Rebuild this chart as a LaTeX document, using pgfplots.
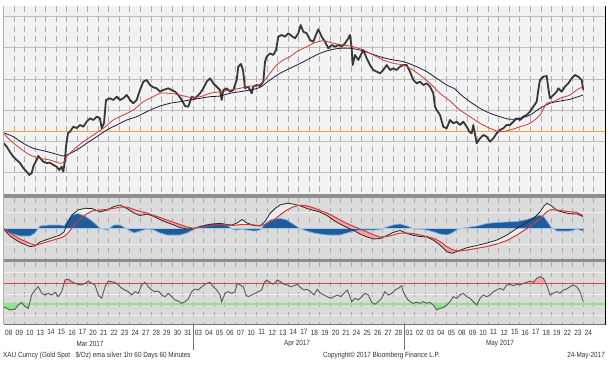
\documentclass[border=0pt]{standalone}
\usepackage{fontspec}
\setmainfont{Liberation Sans}[FakeStretch=0.85]
\usepackage{pgfplots}
\pgfplotsset{compat=1.18}
\usepackage{pgfplotstable}
\usepgfplotslibrary{fillbetween}

\definecolor{pricec}{HTML}{383838}
\definecolor{emared}{HTML}{D03A3A}
\definecolor{emablk}{HTML}{1E1E3C}
\definecolor{orangel}{HTML}{F2A23A}
\definecolor{gridv}{HTML}{ABABAB}
\definecolor{gridh}{HTML}{BEBEBE}
\definecolor{panelbg}{HTML}{DBDBDB}
\definecolor{sepc}{HTML}{8E8E8E}
\definecolor{pinkf}{HTML}{F3A5A5}
\definecolor{grayf}{HTML}{ECECEC}
\definecolor{histblue}{HTML}{1F5C9E}
\definecolor{histedge}{HTML}{7EAFDF}
\definecolor{zeroc}{HTML}{A9C7E6}
\definecolor{rsired}{HTML}{D84848}
\definecolor{rsigreen}{HTML}{8FE38F}
\definecolor{txt}{HTML}{333333}

% price (x in px, y in px from top)
\pgfplotstableread{
x y
3.5 143
6.7 146.7
10 152
13.3 156.7
16.7 160
20 163
23.3 168
26.7 171.7
29.3 175
31.7 173
33.3 166.7
35 163
36.7 160
38.3 156
40 158
43.3 161.7
46.7 163
50 162.7
53.3 165
56.7 166.7
59.3 170
61.7 166.7
63.3 171.7
65 160
66 146.7
68 133
70 131.7
73.3 126.7
76.7 128
80 125
83.3 126.7
86.7 121.7
90 118.3
93.3 120
96.7 116.7
100 118.3
101.7 128.3
104 123
106 100
110 98.3
113.3 100
116.7 96.7
120 100
123.3 98.3
126.7 95
130 100
133.3 103.3
136.7 100
138.3 95
140 90
143.3 81.7
146.7 80
150 85
153.3 87.3
156.7 88.3
160 91.7
163.3 90
168.3 88.3
171.7 90
175 91.7
178.3 95
181.7 100
185 106
188.3 106.7
191.7 96.7
195 98.3
200 93.3
203.3 88.3
206.7 81.7
210 78.3
213.3 83.3
216.7 86.7
220 90
221.7 100
223.3 90
226.7 88.3
230 91.7
233.3 90
236.7 80
238.3 66.7
241 64
243 70
245 88
248.3 86.7
251.7 93.3
253.3 86.7
256.7 85
260 86
263.3 81.7
265 61.7
266.7 56.7
270 53.3
273.3 55
276 50
278.3 36.7
281.7 35
285 36.7
288.3 33.3
291.7 36
295 38.3
298.3 33.3
300.7 25
303.3 31.7
306.7 33.3
310 40
313.3 41.7
316.7 33
318.3 29.3
321.7 36.7
325 41.7
328.3 48.3
331.7 45
335 46.7
338.3 45
341.7 46.7
345 43.3
348.3 38.3
350 35
351.7 48.3
352.7 65
355 55
358.3 60
361.7 53.3
363.3 50
366.7 58.3
370 65
373.3 70
376.7 71.7
380 73.3
383.3 70
386.7 65
390 70
393.3 68.3
396.7 70
400 66.7
403.3 65
406.7 65
410 71.7
413.3 80
416.7 83.3
420 81.7
423.3 85
426.7 83.3
430 86.7
433.3 93.3
435 106.7
436.7 110
440 115
443.3 126.7
446.7 128.3
450 120
453.3 123.3
456.7 121.7
460 125
463.3 121.7
466.7 126.7
469.3 131.7
471.7 133.3
473.3 125
476.7 143.3
480 138.3
483.3 135
486.7 136.7
490 141.7
493.3 138.3
496.7 133.3
500 130
503.3 128.3
506.7 125
510 125
513.3 121.7
516.7 118.3
520 120
523.3 116.7
526.7 115
530 111.7
533.3 106.7
536.7 101.7
538.3 90
540 80
543.3 76.7
546.7 76
548.3 88.3
550 98.3
553.3 95
556.7 91.7
558.3 88.3
561.7 91.7
565 86.7
568.3 83.3
571.7 78.3
575 75
578.3 76.7
581.7 80
583.3 90
}\pricetab

\pgfplotstableread{
x y
3.5 133.3
10 140
20 148.3
30 155
40 158.3
50 160
60 163.3
63.3 162.7
66.7 156.7
73.3 150
83.3 141.7
93.3 135
103.3 128.3
113.3 120
123.3 115
133.3 110
143.3 101.7
153.3 96.7
160 93.3
170 93.3
180 95
190 97.3
200 96.7
210 93.3
220 91.7
230 90
240 88.3
250 86
256.7 86
263.3 81.7
270 73.3
276.7 65
283.3 60
290 56.7
296.7 51.7
306.7 46.7
313.3 43.3
323.3 40.7
333.3 43.3
343.3 45
353.3 46.7
363.3 50
373.3 55
383.3 60
393.3 63.3
403.3 65
410 68.3
420 75
430 83.3
440 93.3
450 101
460 110
470 116.7
480 123.3
490 128.3
500 131.7
510 130
520 126.7
530 123.3
540 115
546.7 103.3
553.3 101.7
560 98.3
570 95
576.7 90
581.7 87.3
583.3 88.3
}\emaredtab

\pgfplotstableread{
x y
3.5 132.7
13.3 136.7
23.3 143.3
33.3 148.3
43.3 150.7
53.3 153.3
63.3 156
66.7 155
76.7 150
86.7 143.3
96.7 136.7
106.7 130
116.7 125
126.7 120
136.7 116.7
146.7 111.7
155 108
160 106
170 103.3
180 101.7
190 100
200 98.3
210 96.7
220 96
230 93.3
240 91.7
250 90
260 87.3
270 80
280 73.3
290 68.3
300 63.5
310 58.3
320 53.3
330 50
340 48.3
350 48.3
360 50
370 53.3
380 56.7
390 59.3
400 61
406.7 62.7
416.7 66.7
426.7 71.7
436.7 78.3
446.7 85
455 89
460 94
470 101.7
480 108.3
490 113.3
500 116.7
510 119.3
520 118.3
530 115
540 108.3
550 103.3
560 101
570 99.3
580 96
583.3 95
}\emablktab

% MACD panel: m = MACD (black), s = signal (red), h = histogram, lo = lower of the two on screen
\pgfplotstableread{
x m s h lo
3.5 229 228.5 229 229
10 236 233 233 236
20 242.5 239 236 242.5
30 246.5 243.5 236 246.5
35 246 245 233 246
40 242 244 226 244
50 238.5 241 225 241
60 235 238 225 238
64 232 236.5 226 236.5
68 222 233 220 233
72 215 228 215 228
78 210 221 213.5 221
85 208.3 215 216 215
92 208.5 211 221 211
100 212 210 228 212
107 210 209.5 230 210
114 206.5 208.3 225 208.3
120 205 207 225 207
127 208.5 207 229 208.5
134 213 209.5 233 213
140 215.5 211.5 231 215.5
147 214 213 229 214
154 216.5 215.5 230 216.5
160 219.5 217.5 233 219.5
167 222.5 220 235 222.5
174 225 222.5 235 225
180 227.5 224.5 235 227.5
187 229 227 233 229
193 228.5 228.3 230 228.5
200 226.7 227.3 226 227.3
210 224.3 225.7 224 225.7
220 223.3 224.3 223.5 224.3
227 224.5 225 225 225
232 225 225.5 229 225.5
237 223 225 230 225
242 219.5 224.5 229 224.5
247 223 224.5 230 224.5
254 225.5 225 231 225.5
260 226 225.5 230 226
265 221.5 224.5 224 224.5
270 213.5 222 220 222
275 208.5 219 219 219
280 205 215 218.3 215
287 203.3 210 220 210
293 204 207 224 207
300 205.7 205.2 228.5 205.7
307 208.5 205.8 231 208.5
314 210.5 208 233 210.5
320 212 210.5 234 212
327 215.5 213 235 215.5
334 220.5 216.5 235 220.5
340 224 220 235 224
347 227.5 223.5 233 227.5
354 230.5 226.5 231 230.5
360 234 229 230 234
367 237 232 230 237
374 239 235 230 239
380 238.5 237 229.5 238.5
387 235.5 236.5 227 236.5
393 232.5 235 225 235
400 230.5 233 224 233
407 233.5 233 226 233.5
414 235.5 233.8 229 235.5
420 236.5 235 229 236.5
427 237 236.5 230 237
434 240.5 238.5 232 240.5
440 245 241.5 234 245
447 251.7 246.7 235 251.7
452 253.3 249.5 233 253.3
458 251 251.2 229 251.2
467 247.7 250 227.5 250
477 245.5 248.3 226 248.3
487 243 246.5 223.5 246.5
497 240 244 222.5 244
507 235 240.5 222 240.5
517 228.3 235 221.5 235
527 222.3 228.5 219.5 228.5
534 218 223.5 217 223.5
540 212 218.5 215 218.5
544 206 214.5 217 214.5
547 203.3 211.7 221 211.7
551 205.5 209.5 227 209.5
557 210.5 210 231 210.5
564 212.5 211 231 212.5
570 213.8 211.8 231 213.8
577 214 212.5 229 214
583 216.5 215.5 231 216.5
}\macdtab

\pgfplotstableread{
x y
3.3 306.7
6.7 308.3
10 310
15 309.3
18.3 305
21.7 302.3
25 306.7
28.3 308.3
31.7 295
35 290
38.3 286.7
41.7 293.3
45 295
48.3 293.3
51.7 295
55 292.3
58.3 296.7
61.7 291.7
65 280
68.3 279
71.7 281.7
75 283.3
78.3 284.3
81.7 285
85 283.3
88.3 281
91.7 283.3
95 285
98.3 295
101.7 298.3
105 286.7
108.3 281
111.7 281.7
115 282.3
118.3 285
121.7 288.3
125 290
128.3 291.7
131.7 295
135 291.7
138.3 293.3
141.7 285
145 282.3
148.3 286.7
151.7 290
155 291.7
158.3 291
161.7 295
165 296.7
168.3 293.3
171.7 296.7
175 300
178.3 301
181.7 303.3
185 301.7
188.3 299
191.7 291.7
195 289
198.3 290
201.7 286.7
206.7 283.3
210 282.3
213.3 286.7
216.7 290
220 295
221.7 301.7
225 293.3
228.3 291.7
231.7 293.3
235 291.7
237.3 283.3
240 285
243.3 286.7
246 295
248.3 296.7
251.7 295
255 293.3
258.3 291.7
261.7 290
264.3 282.3
266.7 280
270 282.3
273.3 284.3
277.3 280
280.7 281.7
284 284.3
287.3 285
290.7 286.7
294 285.7
297.3 284.3
300.7 287.7
304 290
307.3 289.3
310.7 291.7
314 295
317.3 289.3
320.7 293.3
324 295
327.3 296.7
330.7 298.3
334 296.7
337.3 295
340.7 296.7
344 293.3
347.3 290
349.3 295
351.7 301.7
355 298.3
358.3 300
361.7 296.7
365 293.3
368.3 295
371.7 302.3
375 304.3
378.3 301.7
381.7 298.3
385 291.7
388.3 295
391.7 293.3
395 290
398.3 288.3
401.7 285.7
403.3 291.7
406.7 298.3
410 301.7
413.3 303.3
416.7 302.3
420 303.3
423.3 301.7
426.7 303.3
430 302.3
433.3 305
436.7 310
440 308.3
443.3 307.7
446.7 305
450 301.7
453.3 296.7
456.7 298.3
460 295
463.3 293.3
466.7 296.7
470 298.3
473.3 301.7
476.7 305
480 298.3
483.3 295
486.7 296.7
490 295
493.3 291.7
496.7 290
500 288.3
503.3 290
506.7 285
510 284.3
513.3 285.7
516.7 284.3
520 285
523.3 283.3
526.7 282.3
530 281
533.3 282.3
536.7 278.3
540 276.7
543.3 278.3
546.7 285
550 295
553.3 293.3
556.7 291.7
560 293.3
563.3 290
566.7 289
570 286.7
573.3 285
576.7 286.7
580 291.7
583.3 301.7
}\rsitab

\pgfplotsset{
  panel/.style={
    x=1bp, y=1bp, y dir=reverse,
    xmin=3.5, xmax=605,
    anchor=north west,
    axis line style={draw=none},
    major tick length=0pt, minor tick length=0pt,
    xtick={3.5,14.04,...,594},
    ytick=\empty,
    xmajorgrids=true,
    major grid style={gridv, line width=1bp, dash pattern=on 5.5bp off 4.5bp},
    yticklabel=\empty, xticklabel=\empty,
  },
  hline/.style={gridh, line width=0.6bp},
  hline2/.style={white!55!panelbg, line width=0.8bp},
}

\begin{document}
\begin{tikzpicture}
\path (0,0) rectangle (612bp,-368bp);

% ---------------- price panel ----------------
\begin{axis}[panel, at={(3.5bp,-6bp)}, ymin=6, ymax=194,
  axis background/.style={top color=black!5, middle color=black!2, bottom color=black!5}]
\addplot[hline] coordinates {(3.5,16) (605,16)};
\addplot[hline] coordinates {(3.5,47.5) (605,47.5)};
\addplot[hline] coordinates {(3.5,79) (605,79)};
\addplot[hline] coordinates {(3.5,110) (605,110)};
\addplot[hline] coordinates {(3.5,141) (605,141)};
\addplot[hline] coordinates {(3.5,172) (605,172)};
\addplot[orangel, line width=1bp] coordinates {(3.5,131.7) (605,131.7)};
\addplot[pricec, line width=1.8bp, line join=round] table[x=x,y=y] {\pricetab};
\addplot[emablk, line width=0.8bp, smooth] table[x=x,y=y] {\emablktab};
\addplot[emared, line width=0.8bp, smooth] table[x=x,y=y] {\emaredtab};
\end{axis}

% ---------------- MACD panel ----------------
\begin{axis}[panel, at={(3.5bp,-197.5bp)}, ymin=197.5, ymax=258.5,
  axis background/.style={fill=panelbg}]
\addplot[hline2] coordinates {(3.5,212) (605,212)};
\addplot[hline2] coordinates {(3.5,244) (605,244)};
\addplot[name path=macd, draw=none] table[x=x,y=m] {\macdtab};
\addplot[name path=sig, draw=none] table[x=x,y=s] {\macdtab};
\addplot[name path=lo, draw=none] table[x=x,y=lo] {\macdtab};
\addplot[fill=pinkf, draw=none] fill between[of=sig and lo];
\addplot[fill=grayf, draw=none] fill between[of=macd and lo];
\addplot[name path=hist, histedge, line width=0.7bp] table[x=x,y=h] {\macdtab};
\addplot[name path=zero, zeroc, line width=0.5bp] coordinates {(3.5,228.3) (583,228.3)};
\addplot[fill=histblue, draw=none] fill between[of=hist and zero];
\addplot[black!85, line width=0.8bp] table[x=x,y=m] {\macdtab};
\addplot[emared, line width=1bp] table[x=x,y=s] {\macdtab};
\end{axis}

% ---------------- RSI panel ----------------
\begin{axis}[panel, at={(3.5bp,-261.5bp)}, ymin=261.5, ymax=324,
  axis background/.style={fill=panelbg},
  xticklabels={08,09,10,13,14,15,16,17,20,21,22,23,24,27,28,29,30,31,03,04,05,06,07,10,11,12,13,14,17,18,19,20,21,24,25,26,27,28,01,02,03,04,05,08,09,10,11,12,15,16,17,18,19,22,23,24,{}},
  xticklabel style={font=\fontsize{7.7}{8}\selectfont, text=txt, inner sep=0pt, anchor=north, yshift=-5.5bp, xshift=5.27bp}]
\addplot[hline2] coordinates {(3.5,272) (605,272)};
\addplot[hline2] coordinates {(3.5,294) (605,294)};
\addplot[hline2] coordinates {(3.5,315) (605,315)};
% areas beyond the two bands
\addplot[fill=pinkf, draw=none] coordinates {(64.1,283.3) (65,280) (68.3,279) (71.7,281.7) (75,283.3)};
\addplot[fill=pinkf, draw=none] coordinates {(86.6,283.3) (88.3,281) (91.7,283.3)};
\addplot[fill=pinkf, draw=none] coordinates {(106.7,283.3) (108.3,281) (111.7,281.7) (115,282.3) (116.5,283.3)};
\addplot[fill=pinkf, draw=none] coordinates {(143.9,283.3) (145,282.3) (146,283.3)};
\addplot[fill=pinkf, draw=none] coordinates {(207.5,283.3) (210,282.3) (210.8,283.3)};
\addplot[fill=pinkf, draw=none] coordinates {(263.5,283.3) (264.3,282.3) (266.7,280) (270,282.3) (271,283.3)};
\addplot[fill=pinkf, draw=none] coordinates {(275.5,283.3) (277.3,280) (280.7,281.7) (282.5,283.3)};
\addplot[fill=pinkf, draw=none] coordinates {(523.3,283.3) (526.7,282.3) (530,281) (533.3,282.3) (536.7,278.3) (540,276.7) (543.3,278.3) (544.5,283.3)};
\addplot[fill=rsigreen, draw=none] coordinates {(3.3,304.3) (3.3,306.7) (6.7,308.3) (10,310) (15,309.3) (18.3,305) (18.8,304.3)};
\addplot[fill=rsigreen, draw=none] coordinates {(23.3,304.3) (25,306.7) (28.3,308.3) (29.4,304.3)};
\addplot[fill=rsigreen, draw=none] coordinates {(432.1,304.3) (433.3,305) (436.7,310) (440,308.3) (443.3,307.7) (446.7,305) (447.4,304.3)};
\addplot[fill=rsigreen, draw=none] coordinates {(476,304.3) (476.7,305) (477.4,304.3)};
\addplot[rsired, line width=1.1bp] coordinates {(3.5,283.3) (605,283.3)};
\addplot[rsigreen, line width=1.8bp] coordinates {(3.5,304.3) (605,304.3)};
\addplot[black!65, line width=0.9bp] table[x=x,y=y] {\rsitab};
\end{axis}

% separators and borders
\fill[sepc] (3.5bp,-194bp) rectangle (605bp,-197.5bp);
\fill[sepc] (3.5bp,-258.5bp) rectangle (605bp,-261.5bp);
\draw[black!30, line width=0.5bp] (3.5bp,-6bp) -- (3.5bp,-324bp);
\draw[black!55, line width=0.6bp] (3.5bp,-324bp) -- (605bp,-324bp);
\draw[black, line width=1bp] (605bp,-6bp) -- (605bp,-325bp);
\draw[black!55, line width=0.7bp] (193.3bp,-324bp) -- (193.3bp,-350bp);
\draw[black!55, line width=0.7bp] (404.3bp,-324bp) -- (404.3bp,-350bp);

% month labels and footer
\begin{scope}[every node/.style={font=\fontsize{7.5}{8}\selectfont, text=txt, inner sep=0pt}]
\node at (90bp,-344bp) {Mar 2017};
\node at (297bp,-344bp) {Apr 2017};
\node at (500bp,-344bp) {May 2017};
\node[anchor=west] at (3bp,-356bp) {XAU Curncy (Gold Spot\ \ \ \$/Oz) ema silver 1hr 60 Days 60 Minutes};
\node at (381.5bp,-356bp) {Copyright© 2017 Bloomberg Finance L.P.};
\node[anchor=east] at (605bp,-356bp) {24-May-2017};
\end{scope}
\end{tikzpicture}
\end{document}
